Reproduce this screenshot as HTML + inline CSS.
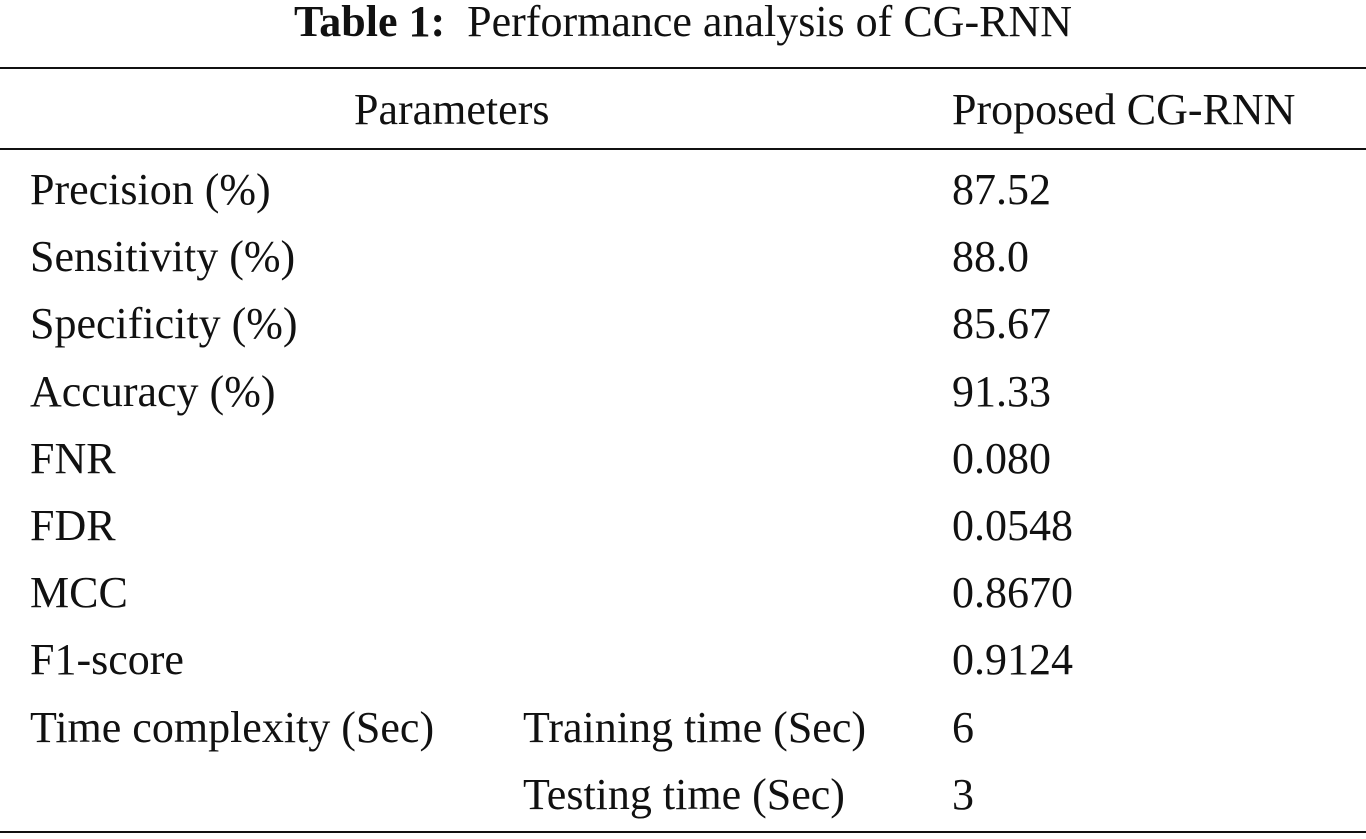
<!DOCTYPE html>
<html><head><meta charset="utf-8"><style>
body{margin:0;width:1366px;height:839px;background:#fff;position:relative;font-family:"Liberation Serif",serif;color:#111;overflow:hidden}
.t{position:absolute;font-size:44px;line-height:60px;white-space:nowrap}
.rule{position:absolute;left:0;width:1366px;background:#111}
</style></head><body>
<div class="t" style="left:0;width:1366px;text-align:center;top:-8px"><b>Table 1:</b>&nbsp; Performance analysis of CG-RNN</div>
<div class="rule" style="top:67px;height:2px"></div>
<div class="t" style="left:354px;top:80px">Parameters</div>
<div class="t" style="left:952px;top:80px">Proposed CG-RNN</div>
<div class="rule" style="top:148px;height:2px"></div>
<div id="rows"></div>
<div class="rule" style="top:831px;height:2px"></div>
<script>
const labels=["Precision (%)","Sensitivity (%)","Specificity (%)","Accuracy (%)","FNR","FDR","MCC","F1-score","Time complexity (Sec)",""];
const subs=["","","","","","","","","Training time (Sec)","Testing time (Sec)"];
const vals=["87.52","88.0","85.67","91.33","0.080","0.0548","0.8670","0.9124","6","3"];
const c=document.body;
labels.forEach((l,i)=>{
 const top=160+i*67.2;
 [[l,30,'row-label'],[subs[i],523,'row-sublabel'],[vals[i],952,'row-value']].forEach(([txt,x,n])=>{
  if(!txt)return;
  const d=document.createElement('div');
  d.className='t';
  
  
  d.style.left=x+'px';d.style.top=top+'px';d.textContent=txt;c.appendChild(d);
 });
});
</script>
</body></html>
